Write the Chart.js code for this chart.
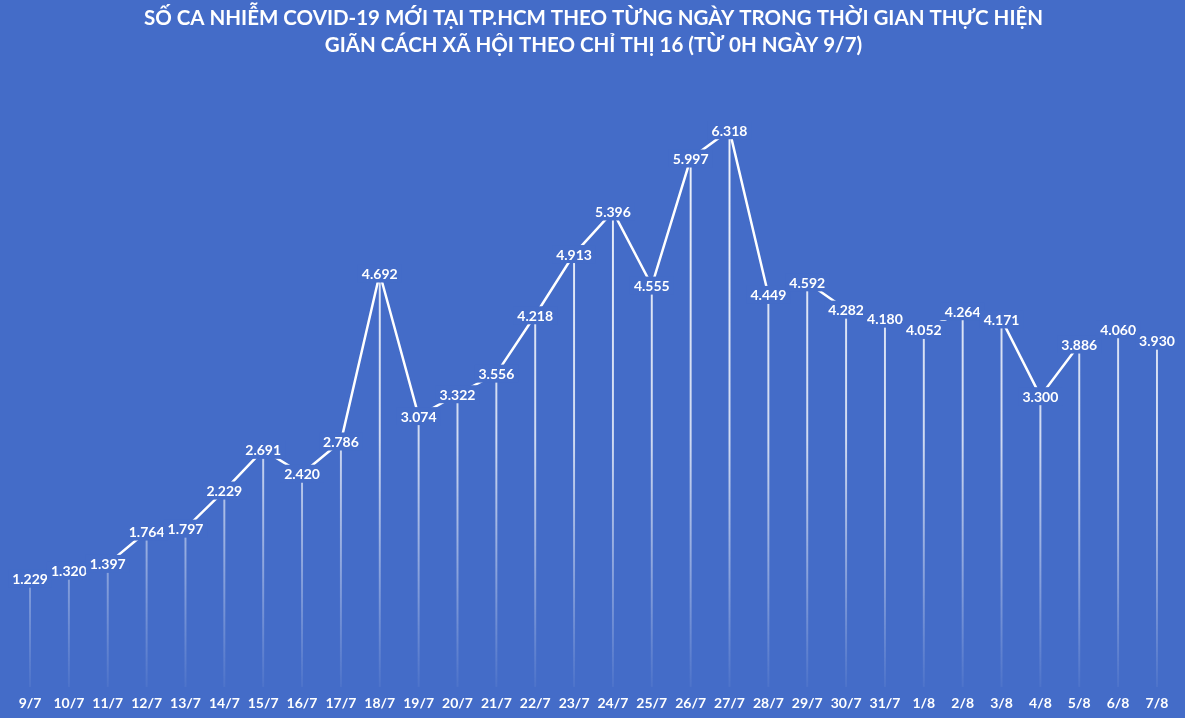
<!DOCTYPE html>
<html>
<head>
<meta charset="UTF-8">
<title>COVID-19 TP.HCM</title>
<script src="https://cdn.jsdelivr.net/npm/chart.js"></script>
<style>
  *{padding:0; margin:0;}
  body{background:#446cc8;}
  #wrap{width:1185px; height:718px; position:relative;}
</style>
</head>
<body>
<div id="wrap"><canvas id="myChart" width="1185" height="718"></canvas></div>
<script>
// du lieu
const days = ['9/7','10/7','11/7','12/7','13/7','14/7','15/7','16/7','17/7','18/7','19/7','20/7','21/7','22/7','23/7',
  '24/7','25/7','26/7','27/7','28/7','29/7','30/7','31/7','1/8','2/8','3/8','4/8','5/8','6/8','7/8'];
const cases = [1229,1320,1397,1764,1797,2229,2691,2420,2786,4692,3074,3322,3556,4218,4913,
  5396,4555,5997,6318,4449,4592,4282,4180,4052,4264,4171,3300,3886,4060,3930];
const titleLines = ['SỐ CA NHIỄM COVID-19 MỚI TẠI TP.HCM THEO TỪNG NGÀY TRONG THỜI GIAN THỰC HIỆN',
  'GIÃN CÁCH XÃ HỘI THEO CHỈ THỊ 16 (TỪ 0H NGÀY 9/7)'];

const BG = '#446cc8';
const FONT = 'Lato, "Open Sans", sans-serif';

function fmt(v){ return v.toLocaleString('de-DE'); }

// nhan so lieu co nen xanh
const labelPlugin = {
  id: 'valueLabels',
  afterDatasetsDraw(chart){
    const ctx = chart.ctx;
    const meta = chart.getDatasetMeta(1);
    ctx.save();
    ctx.font = 'bold 14px ' + FONT;
    ctx.textAlign = 'center';
    ctx.textBaseline = 'middle';
    meta.data.forEach(function(pt, i){
      const txt = fmt(cases[i]);
      const w = ctx.measureText(txt).width + 8;
      ctx.fillStyle = BG;
      ctx.fillRect(pt.x - w/2, pt.y - 9, w, 18);
      ctx.fillStyle = '#ffffff';
      ctx.fillText(txt, pt.x, pt.y + 1);
    });
    ctx.restore();
  }
};

const ctx = document.getElementById('myChart');
new Chart(ctx, {
  data: {
    labels: days,
    datasets: [{
      type: 'bar',
      data: cases,
      barThickness: 1.3,
      order: 2,
      backgroundColor: function(c){
        const area = c.chart.chartArea;
        if(!area) return 'rgba(255,255,255,0.8)';
        const g = c.chart.ctx.createLinearGradient(0, area.top, 0, area.bottom);
        g.addColorStop(0, 'rgba(255,255,255,0.95)');
        g.addColorStop(0.6, 'rgba(255,255,255,0.75)');
        g.addColorStop(1, 'rgba(255,255,255,0.05)');
        return g;
      }
    },{
      type: 'line',
      data: cases,
      order: 1,
      borderColor: '#ffffff',
      borderWidth: 2.5,
      pointRadius: 0,
      tension: 0
    }]
  },
  options: {
    responsive: false,
    animation: false,
    layout: {padding: {left: 10.6, right: 8.6, top: 0, bottom: 0}},
    plugins: {
      legend: {display: false},
      tooltip: {enabled: false},
      title: {
        display: true,
        text: titleLines,
        color: '#ffffff',
        font: {family: FONT, size: 20.5, weight: 'bold', lineHeight: 1.32},
        padding: {top: 5, bottom: 11}
      }
    },
    scales: {
      x: {
        grid: {display: false, drawTicks: false},
        border: {display: false},
        ticks: {color: '#ffffff', font: {family: FONT, size: 14, weight: 'bold'}, padding: 8, maxRotation: 0, autoSkip: false},
        afterFit: function(s){ s.height = 31; }
      },
      y: {
        display: false,
        min: 0,
        max: 7000
      }
    }
  },
  plugins: [labelPlugin]
});
</script>
</body>
</html>
